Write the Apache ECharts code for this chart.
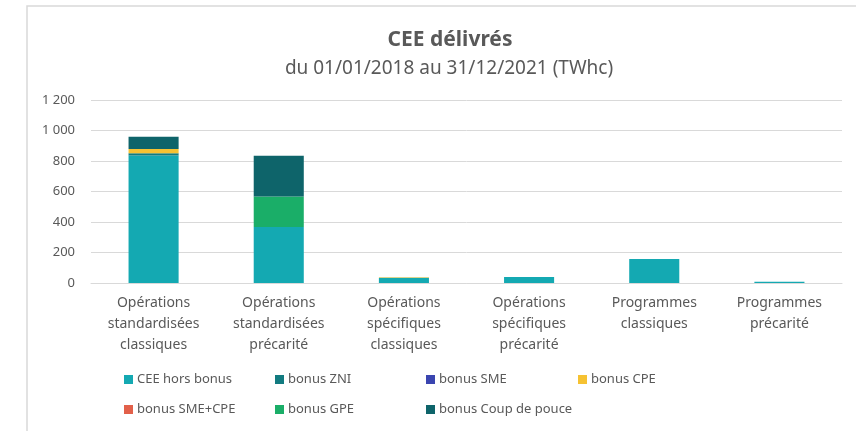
<!DOCTYPE html>
<html>
<head>
<meta charset="utf-8">
<script src="https://cdn.jsdelivr.net/npm/echarts@6/dist/echarts.min.js"></script>
<style>
  html, body { margin: 0; padding: 0; background: #fff; }
  #chart { width: 856px; height: 431px; }
</style>
</head>
<body>
<div id="chart"></div>
<script>
// catégories et valeurs (TWhc)
var categories = [
  "Opérations\nstandardisées\nclassiques",
  "Opérations\nstandardisées\nprécarité",
  "Opérations\nspécifiques\nclassiques",
  "Opérations\nspécifiques\nprécarité",
  "Programmes\nclassiques",
  "Programmes\nprécarité"
];
var horsBonus   = [836, 367, 35, 39, 157, 8];
var bonusZNI    = [15, 0, 0, 0, 0, 0];
var bonusSME    = [0, 0, 0, 0, 0, 0];
var bonusCPE    = [28, 0, 2, 0, 0, 0];
var bonusSMECPE = [0, 0, 0, 0, 0, 0];
var bonusGPE    = [0, 200, 0, 0, 0, 0];
var coupDePouce = [80, 267, 0, 0, 0, 0];
var yTicks = [0, 200, 400, 600, 800, 1000, 1200];

var seriesDefs = [
  { name: "CEE hors bonus", data: horsBonus, color: "#14a9b2" },
  { name: "bonus ZNI", data: bonusZNI, color: "#127b80" },
  { name: "bonus SME", data: bonusSME, color: "#3a45b0" },
  { name: "bonus CPE", data: bonusCPE, color: "#f6c232" },
  { name: "bonus SME+CPE", data: bonusSMECPE, color: "#e2604a" },
  { name: "bonus GPE", data: bonusGPE, color: "#1aae68" },
  { name: "bonus Coup de pouce", data: coupDePouce, color: "#0e646a" }
];

// positions des entrées de légende (colonnes fixes comme dans Excel)
var legendPos = [
  [124, 373], [275, 373], [426, 373], [578, 373],
  [124, 403], [275, 403], [426, 403]
];

var font = "Noto Sans";
var textColor = "#595959";

var myChart = echarts.init(document.getElementById("chart"));
myChart.setOption({
  animation: false,
  textStyle: { fontFamily: font },
  title: [
    {
      text: "CEE délivrés",
      left: 445, top: 25, textAlign: "center",
      textStyle: { fontSize: 21, fontWeight: "bold", color: textColor, fontFamily: font }
    },
    {
      text: "du 01/01/2018 au 31/12/2021 (TWhc)",
      left: 444, top: 54, textAlign: "center",
      textStyle: { fontSize: 19, fontWeight: "normal", color: textColor, fontFamily: font }
    }
  ],
  legend: seriesDefs.map(function (s, i) {
    return {
      data: [s.name],
      left: legendPos[i][0], top: legendPos[i][1],
      icon: "rect", itemWidth: 9, itemHeight: 9, itemGap: 4,
      padding: 0, selectedMode: false,
      textStyle: { fontSize: 13, color: textColor, fontFamily: font, padding: [0, 0, 0, -1] }
    };
  }),
  graphic: [{
    type: "rect",
    shape: { x: 27, y: 6, width: 900, height: 500 },
    style: { fill: "none", stroke: "#d9d9d9", lineWidth: 1.5 },
    silent: true
  }],
  grid: { left: 91, right: 14, top: 100, bottom: 148 },
  xAxis: {
    type: "category",
    data: categories,
    axisTick: { show: false },
    axisLine: { lineStyle: { color: "#d9d9d9", width: 1 } },
    axisLabel: {
      color: textColor, fontSize: 14, fontFamily: font,
      lineHeight: 21, margin: 10, interval: 0
    }
  },
  yAxis: {
    type: "value",
    min: yTicks[0], max: yTicks[yTicks.length - 1], interval: 200,
    axisLine: { show: false },
    axisTick: { show: false },
    splitLine: { lineStyle: { color: "#d9d9d9", width: 1 } },
    axisLabel: {
      color: textColor, fontSize: 13, fontFamily: font, margin: 16,
      formatter: function (v) { return v >= 1000 ? String(v).replace(/(\d)(\d{3})$/, "$1 $2") : String(v); }
    }
  },
  series: seriesDefs.map(function (s) {
    return {
      name: s.name,
      type: "bar",
      stack: "total",
      barCategoryGap: "60%",
      data: s.data,
      itemStyle: { color: s.color },
      emphasis: { disabled: true }
    };
  })
});

window.addEventListener("resize", function () {
  myChart.resize();
});
</script>
</body>
</html>
